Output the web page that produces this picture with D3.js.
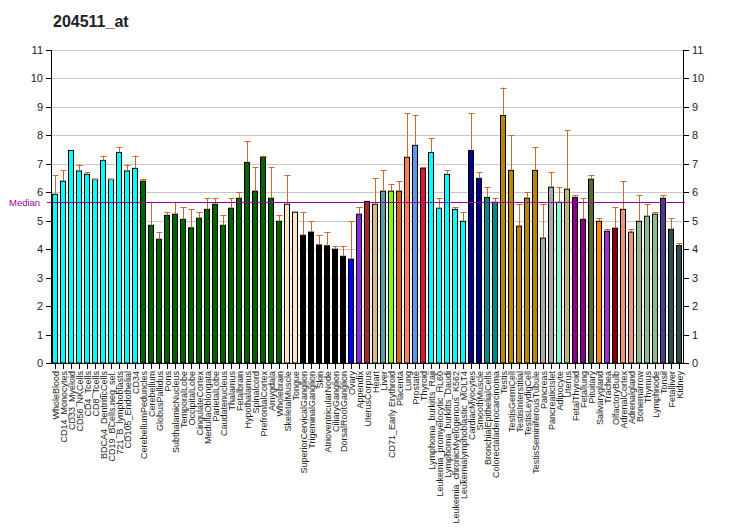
<!DOCTYPE html>
<html><head><meta charset="utf-8">
<script src="https://cdn.jsdelivr.net/npm/d3@7"></script>
<style>body{margin:0;background:#fff}svg{display:block}text{font-family:"Liberation Sans",Arial,sans-serif}</style>
</head><body><svg id="c" width="732" height="530"></svg>
<script>
const title = "204511_at";
const categories = ["WholeBlood","CD14_Monocytes","CD33_Myeloid","CD56_NKCells","CD4_Tcells","CD8_Tcells","BDCA4_DentriticCells","CD19_BCells.neg_sel.","721_B_lymphoblasts","CD105_Endothelial","CD34","CerebellumPeduncles","Cerebellum","GlobusPallidus","Pons","SubthalamicNucleus","TemporalLobe","OccipitalLobe","CingulateCortex","MedullaOblongata","ParietalLobe","Caudatenucleus","Thalamus","Fetalbrain","Hypothalamus","Spinalcord","PrefrontalCortex","Amygdala","Wholebrain","SkeletalMuscle","Tongue","SuperiorCervicalGanglion","TrigeminalGanglion","Skin","AtrioventricularNode","CiliaryGanglion","DorsalRootGanglion","Ovary","Appendix","UterusCorpus","Heart","Liver","CD71_Early Erythroid","Placenta","Lung","Prostate","Thyroid","Lymphoma_burkitts_Raji","Leukemia_promyelocytic_HL60","Lymphoma_burkitts_Daudi","Leukemia_chronicMyelogenous_K562","Leukemialymphoblastic_MOLT4","CardiacMyocytes","SmoothMuscle","BronchialEpithelialCells","Colorectaladenocarcinoma","Testis","TestisGermCell","TestisInterstitial","TestisLeydigCell","TestisSeminiferousTubule","Pancreas","PancreaticIslet","Adipocyte","Uterus","FetalThyroid","Fetallung","Pituitary","Salivarygland","Trachea","OlfactoryBulb","AdrenalCortex","Adrenalgland","Bonemarrow","Thymus","Lymphnode","Tonsil","Fetalliver","Kidney"];
const values = [5.93,6.39,7.47,6.75,6.63,6.46,7.12,6.46,7.40,6.75,6.84,6.39,4.84,4.35,5.19,5.23,5.05,4.75,5.09,5.40,5.58,4.84,5.44,5.79,7.05,6.04,7.23,5.79,4.98,5.58,5.30,4.49,4.60,4.15,4.12,4.00,3.75,3.65,5.23,5.68,5.58,6.04,6.04,6.04,7.23,7.65,6.84,7.40,5.44,6.63,5.40,4.98,7.47,6.49,5.82,5.65,8.70,6.77,4.81,5.79,6.77,4.39,6.18,5.65,6.11,5.82,5.05,6.46,4.98,4.63,4.74,5.40,4.60,4.98,5.16,5.23,5.79,4.70,4.13];
const errTops = [6.60,6.77,7.47,6.97,6.70,6.48,7.29,6.48,7.58,6.97,7.29,6.48,5.67,4.60,5.29,5.67,5.47,5.40,5.29,5.79,5.79,5.19,5.79,6.00,7.79,6.88,7.29,6.88,5.19,6.60,5.30,5.30,4.98,4.49,4.60,4.12,4.12,4.98,5.47,5.68,6.49,6.77,6.28,6.39,8.77,8.70,6.88,7.89,5.79,6.77,5.47,5.30,8.77,6.70,6.18,5.79,9.68,8.00,5.58,6.00,7.58,5.58,6.70,6.18,8.18,5.89,5.79,6.60,5.09,4.70,5.47,6.39,4.70,5.89,5.58,5.30,5.89,5.09,4.20];
const colors = ["#00FFFF","#00FFFF","#00FFFF","#00FFFF","#00FFFF","#00FFFF","#00FFFF","#00FFFF","#00FFFF","#00FFFF","#00FFFF",
"#006400","#006400","#006400","#006400","#006400","#006400","#006400","#006400","#006400","#006400","#006400","#006400","#006400","#006400","#006400","#006400","#006400","#006400",
"#FFE4C4","#FFE4C4","#000000","#000000","#000000","#000000","#000000","#000000","#0000FF","#8A2BE2","#A52A2A","#DEB887","#5F9EA0","#7FFF00","#D2691E","#FF7F50","#6495ED","#DC143C",
"#00FFFF","#00FFFF","#00FFFF","#00FFFF","#00FFFF","#00008B","#00008B","#008B8B","#008B8B","#B8860B","#B8860B","#B8860B","#B8860B","#B8860B","#A9A9A9","#A9A9A9","#7FFFD4","#BDB76B","#8B008B","#8B008B","#556B2F","#FF8C00","#9932CC","#8B0000","#E9967A","#E9967A","#8FBC8F","#8FBC8F","#8FBC8F","#483D8B","#2F4F4F","#2F4F4F"];
const yTicks = [0,1,2,3,4,5,6,7,8,9,10,11];
const median = 5.65;

const svg = d3.select("#c");
const L=51, R=683, T=50, B=363;
const x = d3.scaleBand().domain(categories).range([L,R]).paddingInner(0.25).paddingOuter(0.125);
const y = d3.scaleLinear().domain([0,11]).range([B,T]);

svg.append("text").attr("x",53).attr("y",27).attr("font-size",16).attr("font-weight","bold").attr("fill","#222").text(title);

// grid
svg.append("g").selectAll("line").data(yTicks.filter(d=>d>0)).join("line")
 .attr("x1",L).attr("x2",R).attr("y1",d=>Math.round(y(d))+0.5).attr("y2",d=>Math.round(y(d))+0.5)
 .attr("stroke","#c8c8c8").attr("stroke-width",1);

// bars
svg.append("g").selectAll("rect").data(categories).join("rect")
 .attr("x",d=>x(d)+0.5).attr("width",x.bandwidth()-1)
 .attr("y",(d,i)=>y(values[i])).attr("height",(d,i)=>B-y(values[i]))
 .attr("fill",(d,i)=>colors[i]).attr("stroke","#000").attr("stroke-width",1);

// error bars
const eg = svg.append("g").attr("stroke","#C8692F").attr("stroke-width",1);
categories.forEach((c,i)=>{
  if (errTops[i] - values[i] < 0.02) return;
  const cx = Math.round(x(c)+x.bandwidth()/2)+0.5;
  eg.append("line").attr("x1",cx).attr("x2",cx).attr("y1",y(values[i])).attr("y2",y(errTops[i]));
  eg.append("line").attr("x1",cx-3).attr("x2",cx+3).attr("y1",Math.round(y(errTops[i]))+0.5).attr("y2",Math.round(y(errTops[i]))+0.5);
});

// median
svg.append("line").attr("x1",L-4).attr("x2",R+2).attr("y1",Math.round(y(median))+0.5).attr("y2",Math.round(y(median))+0.5)
 .attr("stroke","#990099").attr("stroke-width",1);
svg.append("text").attr("x",9).attr("y",y(median)+3.5).attr("font-size",9.5).attr("fill","#990099").text("Median");

// axes
const ax = svg.append("g").attr("stroke","#000").attr("stroke-width",1);
ax.append("line").attr("x1",L+0.5).attr("x2",L+0.5).attr("y1",T).attr("y2",B+0.5);
ax.append("line").attr("x1",R+0.5).attr("x2",R+0.5).attr("y1",T).attr("y2",B+0.5);
ax.append("line").attr("x1",L).attr("x2",R+1).attr("y1",B+0.5).attr("y2",B+0.5);
ax.selectAll(".tl").data(yTicks).join("line").attr("x1",L-5).attr("x2",L).attr("y1",d=>Math.round(y(d))+0.5).attr("y2",d=>Math.round(y(d))+0.5);
ax.selectAll(".tr").data(yTicks).join("line").attr("x1",R).attr("x2",R+6).attr("y1",d=>Math.round(y(d))+0.5).attr("y2",d=>Math.round(y(d))+0.5);
ax.selectAll(".tb").data(categories).join("line").attr("x1",d=>Math.round(x(d)+x.bandwidth()/2)+0.5).attr("x2",d=>Math.round(x(d)+x.bandwidth()/2)+0.5).attr("y1",B).attr("y2",B+6);

svg.append("g").selectAll("text").data(yTicks).join("text")
 .attr("x",L-8).attr("y",d=>y(d)+4).attr("text-anchor","end").attr("font-size",11).attr("fill","#222").text(d=>d);
svg.append("g").selectAll("text").data(yTicks).join("text")
 .attr("x",R+9).attr("y",d=>y(d)+4).attr("text-anchor","start").attr("font-size",11).attr("fill","#222").text(d=>d);

// category labels
svg.append("g").selectAll("text").data(categories).join("text")
 .attr("transform",d=>`translate(${x(d)+x.bandwidth()/2+3.5},${B+8}) rotate(-90)`)
 .attr("text-anchor","end").attr("font-size",9).attr("fill","#222").text(d=>d);
</script></body></html>
